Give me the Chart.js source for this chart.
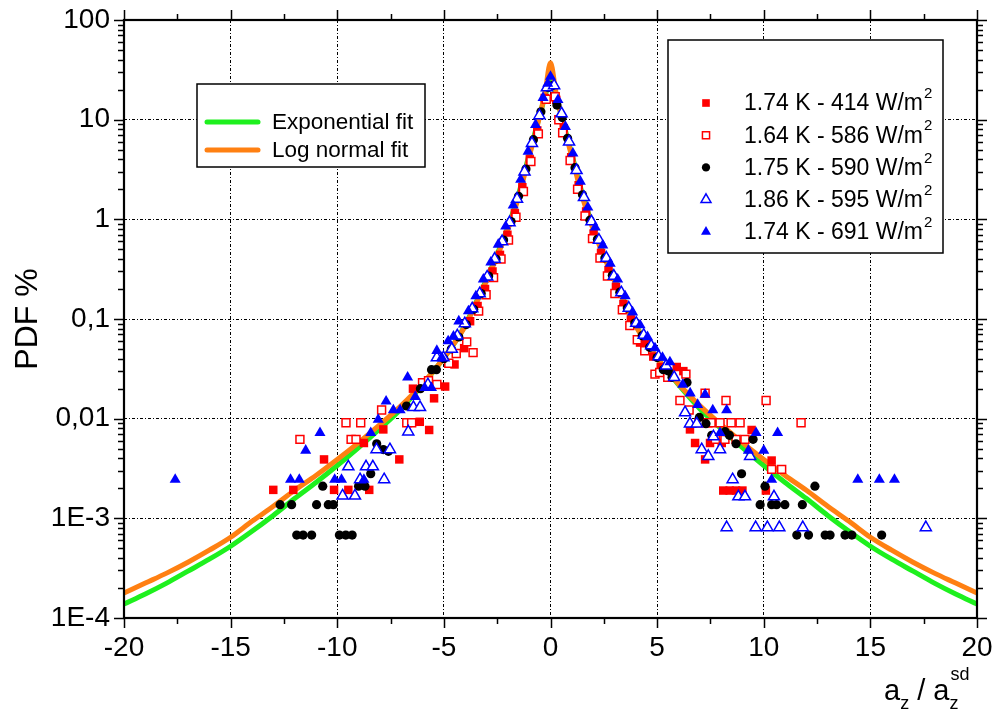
<!DOCTYPE html>
<html>
<head>
<meta charset="utf-8">
<script src="https://cdn.jsdelivr.net/npm/chart.js@4.4.1/dist/chart.umd.min.js"></script>
<style>
  html, body { margin: 0; padding: 0; background: #fff; }
</style>
</head>
<body>
<canvas id="chart" width="998" height="718"></canvas>
<script>
const FONT = '"Liberation Sans", Arial, sans-serif'

// =======================
// Data
// =======================
const fitX = [-20, -19, -18, -17, -16, -15, -14, -13, -12, -11, -10, -9, -8, -7, -6, -5, -4.5, -4, -3.5, -3, -2.5, -2, -1.5, -1, -0.75, -0.5, -0.25,
  0, 0.25, 0.5, 0.75, 1, 1.5, 2, 2.5, 3, 3.5, 4, 4.5, 5, 6, 7, 8, 9, 10, 11, 12, 13, 14, 15, 16, 17, 18, 19, 20]

const expFitY = [0.000138, 0.000174, 0.000224, 0.000295, 0.000389, 0.000525, 0.000741, 0.00107, 0.00158, 0.00229, 0.00339, 0.00513, 0.00794, 0.0126, 0.0219, 0.0407, 0.0575, 0.0871, 0.145, 0.251, 0.447, 0.832, 1.78, 4.47, 7.08, 11.2, 17.4,
  28.2, 17.4, 11.2, 7.08, 4.47, 1.78, 0.832, 0.447, 0.251, 0.145, 0.0871, 0.0575, 0.0407, 0.0219, 0.0126, 0.00794, 0.00513, 0.00339, 0.00229, 0.00158, 0.00107, 0.000741, 0.000525, 0.000389, 0.000295, 0.000224, 0.000174, 0.000138]

const logNormFitY = [0.000178, 0.000224, 0.000282, 0.000363, 0.000479, 0.000646, 0.000933, 0.00132, 0.00191, 0.00269, 0.00389, 0.00575, 0.00871, 0.0135, 0.0224, 0.0407, 0.0575, 0.0851, 0.141, 0.240, 0.427, 0.794, 1.66, 4.27, 6.76, 11.0, 19.1,
  37.2, 19.1, 11.0, 6.76, 4.27, 1.66, 0.794, 0.427, 0.240, 0.141, 0.0851, 0.0575, 0.0407, 0.0224, 0.0135, 0.00871, 0.00575, 0.00389, 0.00269, 0.00191, 0.00132, 0.000933, 0.000646, 0.000479, 0.000363, 0.000282, 0.000224, 0.000178]

// 1.74 K - 414 W/m2 (red filled squares)
const s414X = [-13.0, -12.06, -10.62, -10.15, -9.48, -8.75, -8.5, -7.84, -7.09, -6.45, -6.13, -5.69, -5.46, -4.94, -4.5, -4.05, -3.77, -3.42, -3.07, -2.72, -2.37, -2.02, -1.67, -1.32, -0.97, -0.62, -0.27,
  0.27, 0.62, 0.97, 1.32, 1.67, 2.02, 2.37, 2.72, 3.07, 3.42, 3.77, 4.2, 4.47, 4.82, 5.17, 5.5, 5.92, 6.23, 6.54, 6.78, 7.25, 7.48, 8.03, 8.1, 8.4, 8.7, 9.0, 9.43, 10.1, 10.37]
const s414Y = [0.00193, 0.00193, 0.0039, 0.00193, 0.00193, 0.0057, 0.00193, 0.0078, 0.0039, 0.02, 0.0093, 0.0077, 0.016, 0.021, 0.035, 0.051, 0.095, 0.135, 0.2, 0.3, 0.44, 0.7, 1.15, 2.1, 4.0, 7.8, 16.5,
  15.8, 8.2, 4.2, 2.2, 1.2, 0.72, 0.46, 0.31, 0.21, 0.141, 0.099, 0.058, 0.056, 0.042, 0.033, 0.028, 0.033, 0.030, 0.0078, 0.0057, 0.0039, 0.0057, 0.0057, 0.0019, 0.0019, 0.0019, 0.0019, 0.0077, 0.0019, 0.0038]

// 1.64 K - 586 W/m2 (red open squares)
const s586X = [-11.75, -9.59, -9.35, -9.12, -8.9, -7.92, -6.74, -6.51, -6.0, -5.72, -5.33, -4.77, -4.42, -3.93, -3.63, -3.37, -3.02, -2.67, -2.32, -1.97, -1.62, -1.27, -0.92, -0.57, -0.2,
  0.22, 0.39, 0.57, 0.92, 1.27, 1.62, 1.97, 2.32, 2.67, 3.02, 3.37, 3.72, 4.07, 4.42, 4.9, 5.12, 5.5, 6.07, 6.35, 6.5, 6.96, 7.25, 7.38, 7.53, 7.73, 7.95, 8.18, 8.23, 8.47, 8.7, 8.89, 9.12, 10.11, 10.37, 10.84, 11.75]
const s586Y = [0.0062, 0.0091, 0.0062, 0.0062, 0.0091, 0.0122, 0.0091, 0.0091, 0.023, 0.024, 0.022, 0.036, 0.045, 0.059, 0.046, 0.12, 0.175, 0.26, 0.40, 0.62, 1.05, 1.9, 3.8, 7.2, 16,
  17, 10, 7.4, 3.9, 2.0, 1.08, 0.64, 0.41, 0.27, 0.18, 0.124, 0.086, 0.062, 0.048, 0.028, 0.029, 0.026, 0.0152, 0.028, 0.0122, 0.0091, 0.018, 0.0091, 0.0091, 0.0062, 0.0091, 0.0062, 0.0152, 0.0091, 0.0062, 0.0091, 0.0062, 0.0152, 0.0031, 0.0031, 0.0091]

// 1.75 K - 590 W/m2 (black circles)
const s590X = [-12.68, -12.14, -11.9, -11.6, -11.2, -10.97, -10.68, -10.42, -10.18, -9.9, -9.6, -9.3, -9.0, -8.7, -8.43, -8.15, -7.84, -7.6, -6.75, -6.1, -5.58, -5.35, -5.0, -4.65, -4.3, -3.95, -3.6, -3.25, -2.9, -2.55, -2.2, -1.85, -1.5, -1.15, -0.8, -0.45, -0.1,
  0.1, 0.3, 0.55, 0.8, 1.15, 1.5, 1.85, 2.2, 2.55, 2.9, 3.25, 3.6, 3.95, 4.3, 4.65, 5.0, 5.29, 5.53, 5.7, 6.4, 6.98, 7.29, 7.56, 8.19, 8.39, 8.7, 8.96, 9.5, 9.83, 10.06, 10.37, 10.6, 10.99, 11.55, 11.81, 12.1, 12.4, 12.88, 13.11, 13.81, 14.13, 15.53]
const s590Y = [0.00137, 0.00137, 0.00068, 0.00068, 0.00068, 0.00137, 0.0021, 0.00137, 0.00137, 0.00068, 0.00068, 0.00068, 0.0021, 0.0021, 0.0028, 0.0056, 0.0049, 0.0047, 0.0134, 0.02, 0.031, 0.031, 0.04, 0.05, 0.066, 0.088, 0.125, 0.18, 0.27, 0.40, 0.62, 0.95, 1.7, 3.2, 6.3, 12, 21,
  22, 14, 10.5, 6.5, 3.3, 1.76, 0.98, 0.63, 0.41, 0.275, 0.186, 0.129, 0.091, 0.068, 0.052, 0.041, 0.031, 0.030, 0.026, 0.023, 0.0103, 0.0089, 0.0068, 0.0074, 0.0068, 0.0056, 0.0028, 0.0062, 0.00137, 0.0021, 0.00137, 0.00137, 0.00137, 0.00068, 0.00137, 0.00068, 0.0021, 0.00068, 0.00068, 0.00068, 0.00068, 0.00068]

// 1.86 K - 595 W/m2 (blue open triangles)
const s595X = [-9.75, -9.48, -9.17, -8.93, -8.65, -8.33, -8.16, -7.8, -7.53, -6.67, -6.43, -6.12, -5.75, -5.33, -5.02, -4.63, -4.37, -4.02, -3.67, -3.32, -2.97, -2.62, -2.27, -1.92, -1.57, -1.22, -0.87, -0.52, -0.17,
  0.17, 0.52, 0.87, 1.22, 1.57, 1.92, 2.27, 2.62, 2.97, 3.32, 3.67, 4.02, 4.37, 4.72, 5.07, 5.42, 5.8, 6.31, 6.54, 6.86, 7.09, 7.4, 7.64, 7.95, 8.26, 8.54, 8.81, 9.12, 9.36, 9.62, 10.17, 10.48, 10.73, 11.83, 17.6]
const s595Y = [0.00168, 0.0033, 0.00168, 0.00245, 0.0033, 0.0033, 0.0049, 0.00245, 0.0049, 0.0074, 0.013, 0.013, 0.022, 0.041, 0.041, 0.05, 0.068, 0.09, 0.127, 0.18, 0.265, 0.4, 0.6, 0.93, 1.6, 3.0, 5.8, 11, 21,
  22, 11.5, 6.0, 3.1, 1.66, 0.95, 0.62, 0.41, 0.27, 0.184, 0.129, 0.091, 0.069, 0.054, 0.042, 0.034, 0.026, 0.0115, 0.0089, 0.0089, 0.0049, 0.0042, 0.0066, 0.0049, 0.00081, 0.00245, 0.00165, 0.00165, 0.0042, 0.00081, 0.00081, 0.00165, 0.00081, 0.00081, 0.00081]

// 1.74 K - 691 W/m2 (blue filled triangles)
const s691X = [-17.6, -12.19, -11.78, -11.48, -10.81, -10.12, -9.8, -8.75, -8.43, -8.08, -7.71, -7.37, -7.05, -6.7, -6.34, -5.9, -5.58, -5.33, -5.1, -4.8, -4.55, -4.3, -3.85, -3.5, -3.15, -2.8, -2.45, -2.1, -1.75, -1.4, -1.05, -0.7, -0.35, -0.13,
  0.0, 0.35, 0.7, 1.05, 1.4, 1.75, 2.1, 2.45, 2.8, 3.15, 3.5, 3.85, 4.2, 4.55, 4.9, 5.25, 5.6, 6.2, 6.55, 6.9, 7.25, 7.61, 7.95, 8.26, 9.28, 9.64, 10.0, 10.37, 10.65, 14.41, 15.42, 16.13]
const s691Y = [0.00245, 0.00245, 0.00245, 0.0048, 0.0072, 0.00245, 0.00245, 0.00245, 0.0072, 0.0098, 0.0149, 0.0122, 0.0122, 0.026, 0.0166, 0.0204, 0.0204, 0.048, 0.041, 0.06, 0.067, 0.095, 0.12, 0.17, 0.25, 0.37, 0.56, 0.85, 1.38, 2.5, 4.8, 8.9, 16.6, 23,
  27, 15.8, 8.5, 4.6, 2.4, 1.32, 0.83, 0.55, 0.36, 0.25, 0.17, 0.117, 0.087, 0.066, 0.051, 0.041, 0.037, 0.022, 0.018, 0.0138, 0.0175, 0.0122, 0.0072, 0.0122, 0.0048, 0.0072, 0.0048, 0.00245, 0.0072, 0.00245, 0.00245, 0.00245]

const yTicks = [1e-4, 1e-3, 0.01, 0.1, 1, 10, 100]
const yTickLabels = ['1E-4', '1E-3', '0,01', '0,1', '1', '10', '100']

const fitNames = ['Exponential fit', 'Log normal fit']
const seriesNames = ['1.74 K - 414 W/m', '1.64 K - 586 W/m', '1.75 K - 590 W/m', '1.86 K - 595 W/m', '1.74 K - 691 W/m']


// =======================
// Styles
// =======================
const GREEN = '#1ef01e'
const ORANGE = '#ff8012'
const RED = '#ff0000'
const BLUE = '#0000ff'

const markerStyles = [
  { pointStyle: 'rect', radius: 6, backgroundColor: RED, borderColor: RED, borderWidth: 0 },
  { pointStyle: 'rect', radius: 5.6, backgroundColor: '#fff', borderColor: RED, borderWidth: 1.5 },
  { pointStyle: 'circle', radius: 4.6, backgroundColor: '#000', borderColor: '#000', borderWidth: 0 },
  { pointStyle: 'triangle', radius: 6.4, backgroundColor: '#fff', borderColor: BLUE, borderWidth: 1.5 },
  { pointStyle: 'triangle', radius: 6.4, backgroundColor: BLUE, borderColor: BLUE, borderWidth: 0 }
]

const pts = (xs, ys) => xs.map((x, i) => ({ x, y: ys[i] }))

function scatterSet(label, xs, ys, m, order) {
  return {
    label,
    data: pts(xs, ys),
    showLine: false,
    order,
    pointStyle: m.pointStyle,
    pointRadius: m.radius,
    pointBackgroundColor: m.backgroundColor,
    pointBorderColor: m.borderColor,
    pointBorderWidth: m.borderWidth
  }
}

function fitSet(label, ys, color, order) {
  return {
    label,
    data: pts(fitX, ys),
    showLine: true,
    order,
    borderColor: color,
    borderWidth: 5,
    pointRadius: 0,
    cubicInterpolationMode: 'monotone',
    borderCapStyle: 'round',
    borderJoinStyle: 'round'
  }
}

// keep the plot box where the reference has it
function noPad(s) {
  s.paddingLeft = 0
  s.paddingRight = 0
  s.paddingTop = 0
  s.paddingBottom = 0
}


// =======================
// Frame, ticks, legends, x title
// =======================
const frame = {
  id: 'frame',
  afterDatasetsDraw(chart) {
    const { ctx, chartArea: a, scales: { x, y } } = chart
    ctx.save()
    ctx.strokeStyle = '#000'
    ctx.lineWidth = 1.5
    ctx.beginPath()
    for (let v = -20; v <= 20; v += 2.5) {
      const px = Math.round(x.getPixelForValue(v)) + 0.5
      const len = v % 5 === 0 ? 10 : 6
      ctx.moveTo(px, a.bottom); ctx.lineTo(px, a.bottom + len)
      ctx.moveTo(px, a.top); ctx.lineTo(px, a.top - len)
    }
    for (let e = -4; e <= 2; e++) {
      for (let m = 1; m < 10; m++) {
        if (e === 2 && m > 1) break
        const py = Math.round(y.getPixelForValue(m * Math.pow(10, e))) + 0.5
        const len = m === 1 ? 10 : 6
        ctx.moveTo(a.left, py); ctx.lineTo(a.left - len, py)
        ctx.moveTo(a.right, py); ctx.lineTo(a.right + len, py)
      }
    }
    ctx.stroke()
    ctx.lineWidth = 2.2
    ctx.strokeRect(a.left, a.top, a.right - a.left, a.bottom - a.top)
    ctx.restore()
  },
  afterDraw(chart) {
    const { ctx } = chart
    ctx.save()
    ctx.fillStyle = '#000'
    ctx.textBaseline = 'middle'

    // fit legend
    ctx.lineWidth = 1.5
    ctx.strokeStyle = '#000'
    ctx.fillStyle = '#fff'
    ctx.fillRect(197, 84, 228, 83)
    ctx.strokeRect(197, 84, 228, 83)
    const fitColors = [GREEN, ORANGE]
    fitNames.forEach((name, i) => {
      const yy = 122 + i * 28
      ctx.strokeStyle = fitColors[i]
      ctx.lineWidth = 5
      ctx.lineCap = 'round'
      ctx.beginPath(); ctx.moveTo(207, yy); ctx.lineTo(258, yy); ctx.stroke()
      ctx.fillStyle = '#000'
      ctx.font = `22.5px ${FONT}`
      ctx.textAlign = 'left'
      ctx.fillText(name, 272, yy + 1)
    })

    // series legend
    ctx.lineCap = 'butt'
    ctx.lineWidth = 1.5
    ctx.strokeStyle = '#000'
    ctx.fillStyle = '#fff'
    ctx.fillRect(668, 40, 275, 213)
    ctx.strokeRect(668, 40, 275, 213)
    seriesNames.forEach((name, i) => {
      const yy = 103 + i * 32.2
      const m = markerStyles[i]
      ctx.fillStyle = m.backgroundColor
      ctx.strokeStyle = m.borderColor
      ctx.lineWidth = m.borderWidth
      Chart.helpers.drawPoint(ctx, { pointStyle: m.pointStyle, radius: m.radius * 0.9, borderWidth: m.borderWidth, rotation: 0 }, 706, yy)
      ctx.fillStyle = '#000'
      ctx.font = `23px ${FONT}`
      ctx.textAlign = 'left'
      ctx.fillText(name, 744, yy + 1)
      const w = ctx.measureText(name).width
      ctx.font = `15px ${FONT}`
      ctx.fillText('2', 744 + w + 1, yy - 9)
    })

    // x axis title  a_z / a_z^sd
    ctx.fillStyle = '#000'
    ctx.textAlign = 'left'
    ctx.textBaseline = 'alphabetic'
    let cx = 884
    const big = `29px ${FONT}`, small = `18px ${FONT}`
    ctx.font = big; ctx.fillText('a', cx, 700); cx += ctx.measureText('a').width
    ctx.font = small; ctx.fillText('z', cx, 709); cx += ctx.measureText('z').width
    ctx.font = big; ctx.fillText(' / a', cx, 700); cx += ctx.measureText(' / a').width
    ctx.font = small; ctx.fillText('z', cx, 709); ctx.fillText('sd', cx + 1, 680)
    ctx.restore()
  }
}


// =======================
// Chart
// =======================
const chart = new Chart(document.getElementById('chart'), {
  type: 'scatter',
  data: {
    datasets: [
      scatterSet(seriesNames[4], s691X, s691Y, markerStyles[4], 1),
      scatterSet(seriesNames[3], s595X, s595Y, markerStyles[3], 2),
      scatterSet(seriesNames[2], s590X, s590Y, markerStyles[2], 3),
      scatterSet(seriesNames[1], s586X, s586Y, markerStyles[1], 4),
      scatterSet(seriesNames[0], s414X, s414Y, markerStyles[0], 5),
      fitSet(fitNames[1], logNormFitY, ORANGE, 6),
      fitSet(fitNames[0], expFitY, GREEN, 7)
    ]
  },
  options: {
    responsive: false,
    animation: false,
    events: [],
    layout: { padding: { top: 20, right: 21, left: 0, bottom: 0 } },
    plugins: { legend: { display: false }, tooltip: { enabled: false } },
    scales: {
      x: {
        type: 'linear',
        min: -20,
        max: 20,
        afterFit: s => { s.height = 100; noPad(s) },
        ticks: { stepSize: 5, color: '#000', padding: 13, font: { family: FONT, size: 28 } },
        grid: { color: '#000', lineWidth: 1, drawTicks: false },
        border: { display: false, dash: [3, 2, 1, 2] }
      },
      y: {
        type: 'logarithmic',
        min: 1e-4,
        max: 100,
        afterFit: s => { s.width = 124; noPad(s) },
        afterBuildTicks: s => { s.ticks = yTicks.map(v => ({ value: v })) },
        ticks: {
          color: '#000',
          padding: 14,
          font: { family: FONT, size: 28 },
          callback: v => yTickLabels[yTicks.indexOf(v)] ?? ''
        },
        grid: { color: '#000', lineWidth: 1, drawTicks: false },
        border: { display: false, dash: [3, 2, 1, 2] },
        title: { display: true, text: 'PDF %', color: '#000', font: { family: FONT, size: 32 }, padding: { top: 9, bottom: 0 } }
      }
    }
  },
  plugins: [frame]
})
</script>
</body>
</html>
